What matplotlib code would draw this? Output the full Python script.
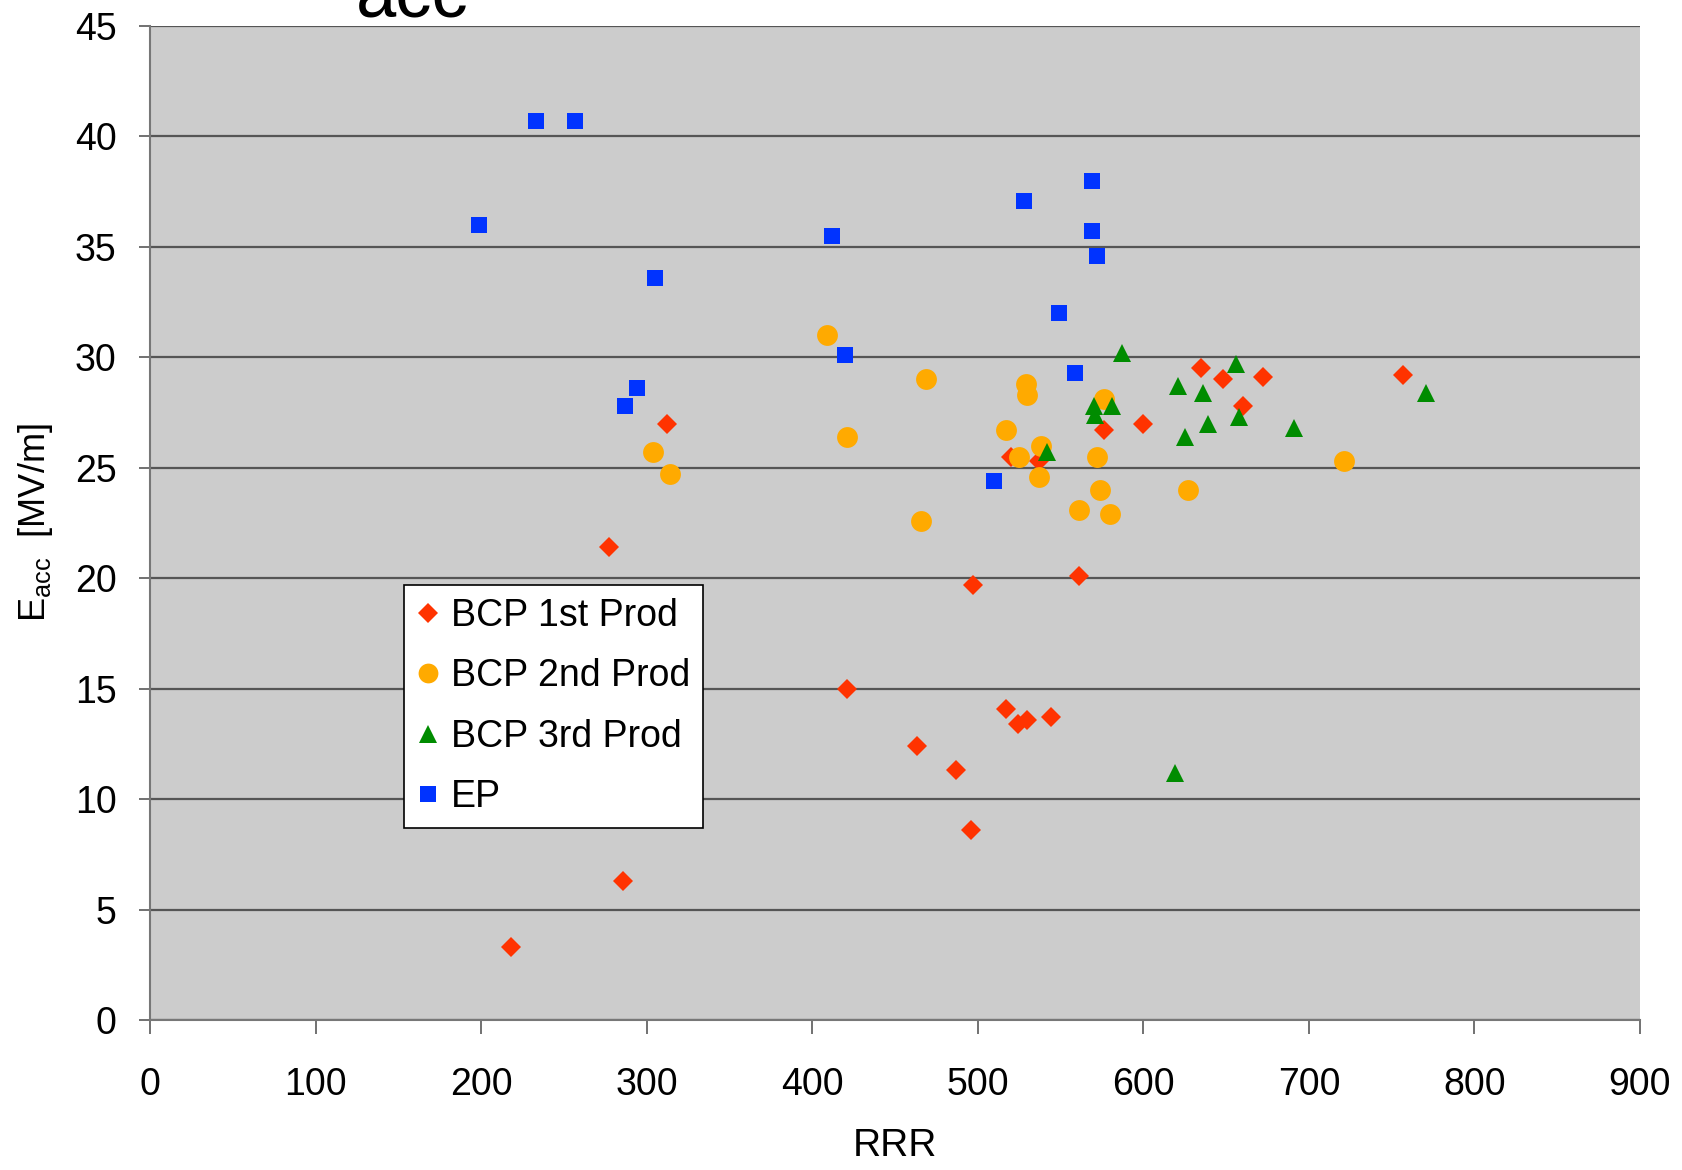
import matplotlib
matplotlib.use("Agg")
import matplotlib.pyplot as plt

plt.rcParams['font.family'] = ['Liberation Sans', 'DejaVu Sans']

# BCP 1st Prod
bcp1_rrr = [218, 286, 277, 312, 421, 463, 487, 496, 497, 517, 524, 530, 544, 520, 537, 561, 576, 600, 635, 648, 660, 672, 757]
bcp1_eacc = [3.3, 6.3, 21.4, 27.0, 15.0, 12.4, 11.3, 8.6, 19.7, 14.1, 13.4, 13.6, 13.7, 25.5, 25.3, 20.1, 26.7, 27.0, 29.5, 29.0, 27.8, 29.1, 29.2]

# BCP 2nd Prod
bcp2_rrr = [409, 304, 314, 421, 469, 466, 517, 529, 530, 525, 538, 537, 561, 576, 572, 574, 580, 627, 721]
bcp2_eacc = [31.0, 25.7, 24.7, 26.4, 29.0, 22.6, 26.7, 28.8, 28.3, 25.5, 26.0, 24.6, 23.1, 28.1, 25.5, 24.0, 22.9, 24.0, 25.3]

# BCP 3rd Prod
bcp3_rrr = [587, 570, 571, 581, 542, 621, 636, 625, 639, 656, 658, 691, 771, 619]
bcp3_eacc = [30.2, 27.8, 27.4, 27.8, 25.7, 28.7, 28.4, 26.4, 27.0, 29.7, 27.3, 26.8, 28.4, 11.2]

# EP
ep_rrr = [199, 233, 257, 305, 287, 294, 412, 420, 510, 528, 569, 569, 572, 549, 559]
ep_eacc = [36.0, 40.7, 40.7, 33.6, 27.8, 28.6, 35.5, 30.1, 24.4, 37.1, 38.0, 35.7, 34.6, 32.0, 29.3]

x_ticks = [0, 100, 200, 300, 400, 500, 600, 700, 800, 900]
y_ticks = [0, 5, 10, 15, 20, 25, 30, 35, 40, 45]

fig = plt.figure(figsize=(16.82, 11.70), dpi=100)
ax = fig.add_axes([150/1682, 1 - 1020/1170, 1490/1682, 994/1170])
ax.set_facecolor('#CCCCCC')

ax.plot(bcp1_rrr, bcp1_eacc, linestyle='none', marker='D', ms=10.5, color='#FF3300',
        markeredgewidth=0, label='BCP 1st Prod', zorder=3)
ax.plot(bcp2_rrr, bcp2_eacc, linestyle='none', marker='o', ms=15, color='#FFAA00',
        markeredgewidth=0, label='BCP 2nd Prod', zorder=4)
ax.plot(bcp3_rrr, bcp3_eacc, linestyle='none', marker='^', ms=13, color='#008C00',
        markeredgewidth=0, label='BCP 3rd Prod', zorder=5)
ax.plot(ep_rrr, ep_eacc, linestyle='none', marker='s', ms=12, color='#0033FF',
        markeredgewidth=0, label='EP', zorder=6)

ax.set_xlim(0, 900)
ax.set_ylim(0, 45)
ax.set_xticks(x_ticks)
ax.set_yticks(y_ticks)
ax.set_xticklabels([str(v) for v in x_ticks])
ax.set_yticklabels([str(v) for v in y_ticks])
ax.yaxis.grid(True, color='#555555', linewidth=1.6, zorder=1)
ax.set_axisbelow(True)

for s in ['top', 'right']:
    ax.spines[s].set_visible(False)
for s in ['left', 'bottom']:
    ax.spines[s].set_color('#777777')
    ax.spines[s].set_linewidth(1.5)

ax.tick_params(axis='x', direction='out', length=10, width=1.3, color='#666666',
               labelsize=27, pad=24)
ax.tick_params(axis='y', direction='out', length=8, width=1.3, color='#666666',
               labelsize=27, pad=16)

ax.set_xlabel('RRR', fontsize=28, labelpad=18)
ax.set_ylabel('E$_{\\mathregular{acc}}$  [MV/m]', fontsize=26, labelpad=14)

leg = ax.legend(loc='upper left', bbox_to_anchor=((404-150)/1490, 1 - (585-26)/994),
                borderaxespad=0, frameon=True, fancybox=False, fontsize=27,
                handletextpad=0.3, handlelength=0.6, labelspacing=0.65,
                borderpad=0.35, markerscale=0.95)
leg.get_frame().set_edgecolor('black')
leg.get_frame().set_linewidth(1.2)
leg.get_frame().set_facecolor('white')
leg.get_frame().set_alpha(1)

fig.text(412/1682, 1 - 18/1170, 'acc', fontsize=52, ha='center', va='baseline')

fig.savefig('out.png', dpi=100)
